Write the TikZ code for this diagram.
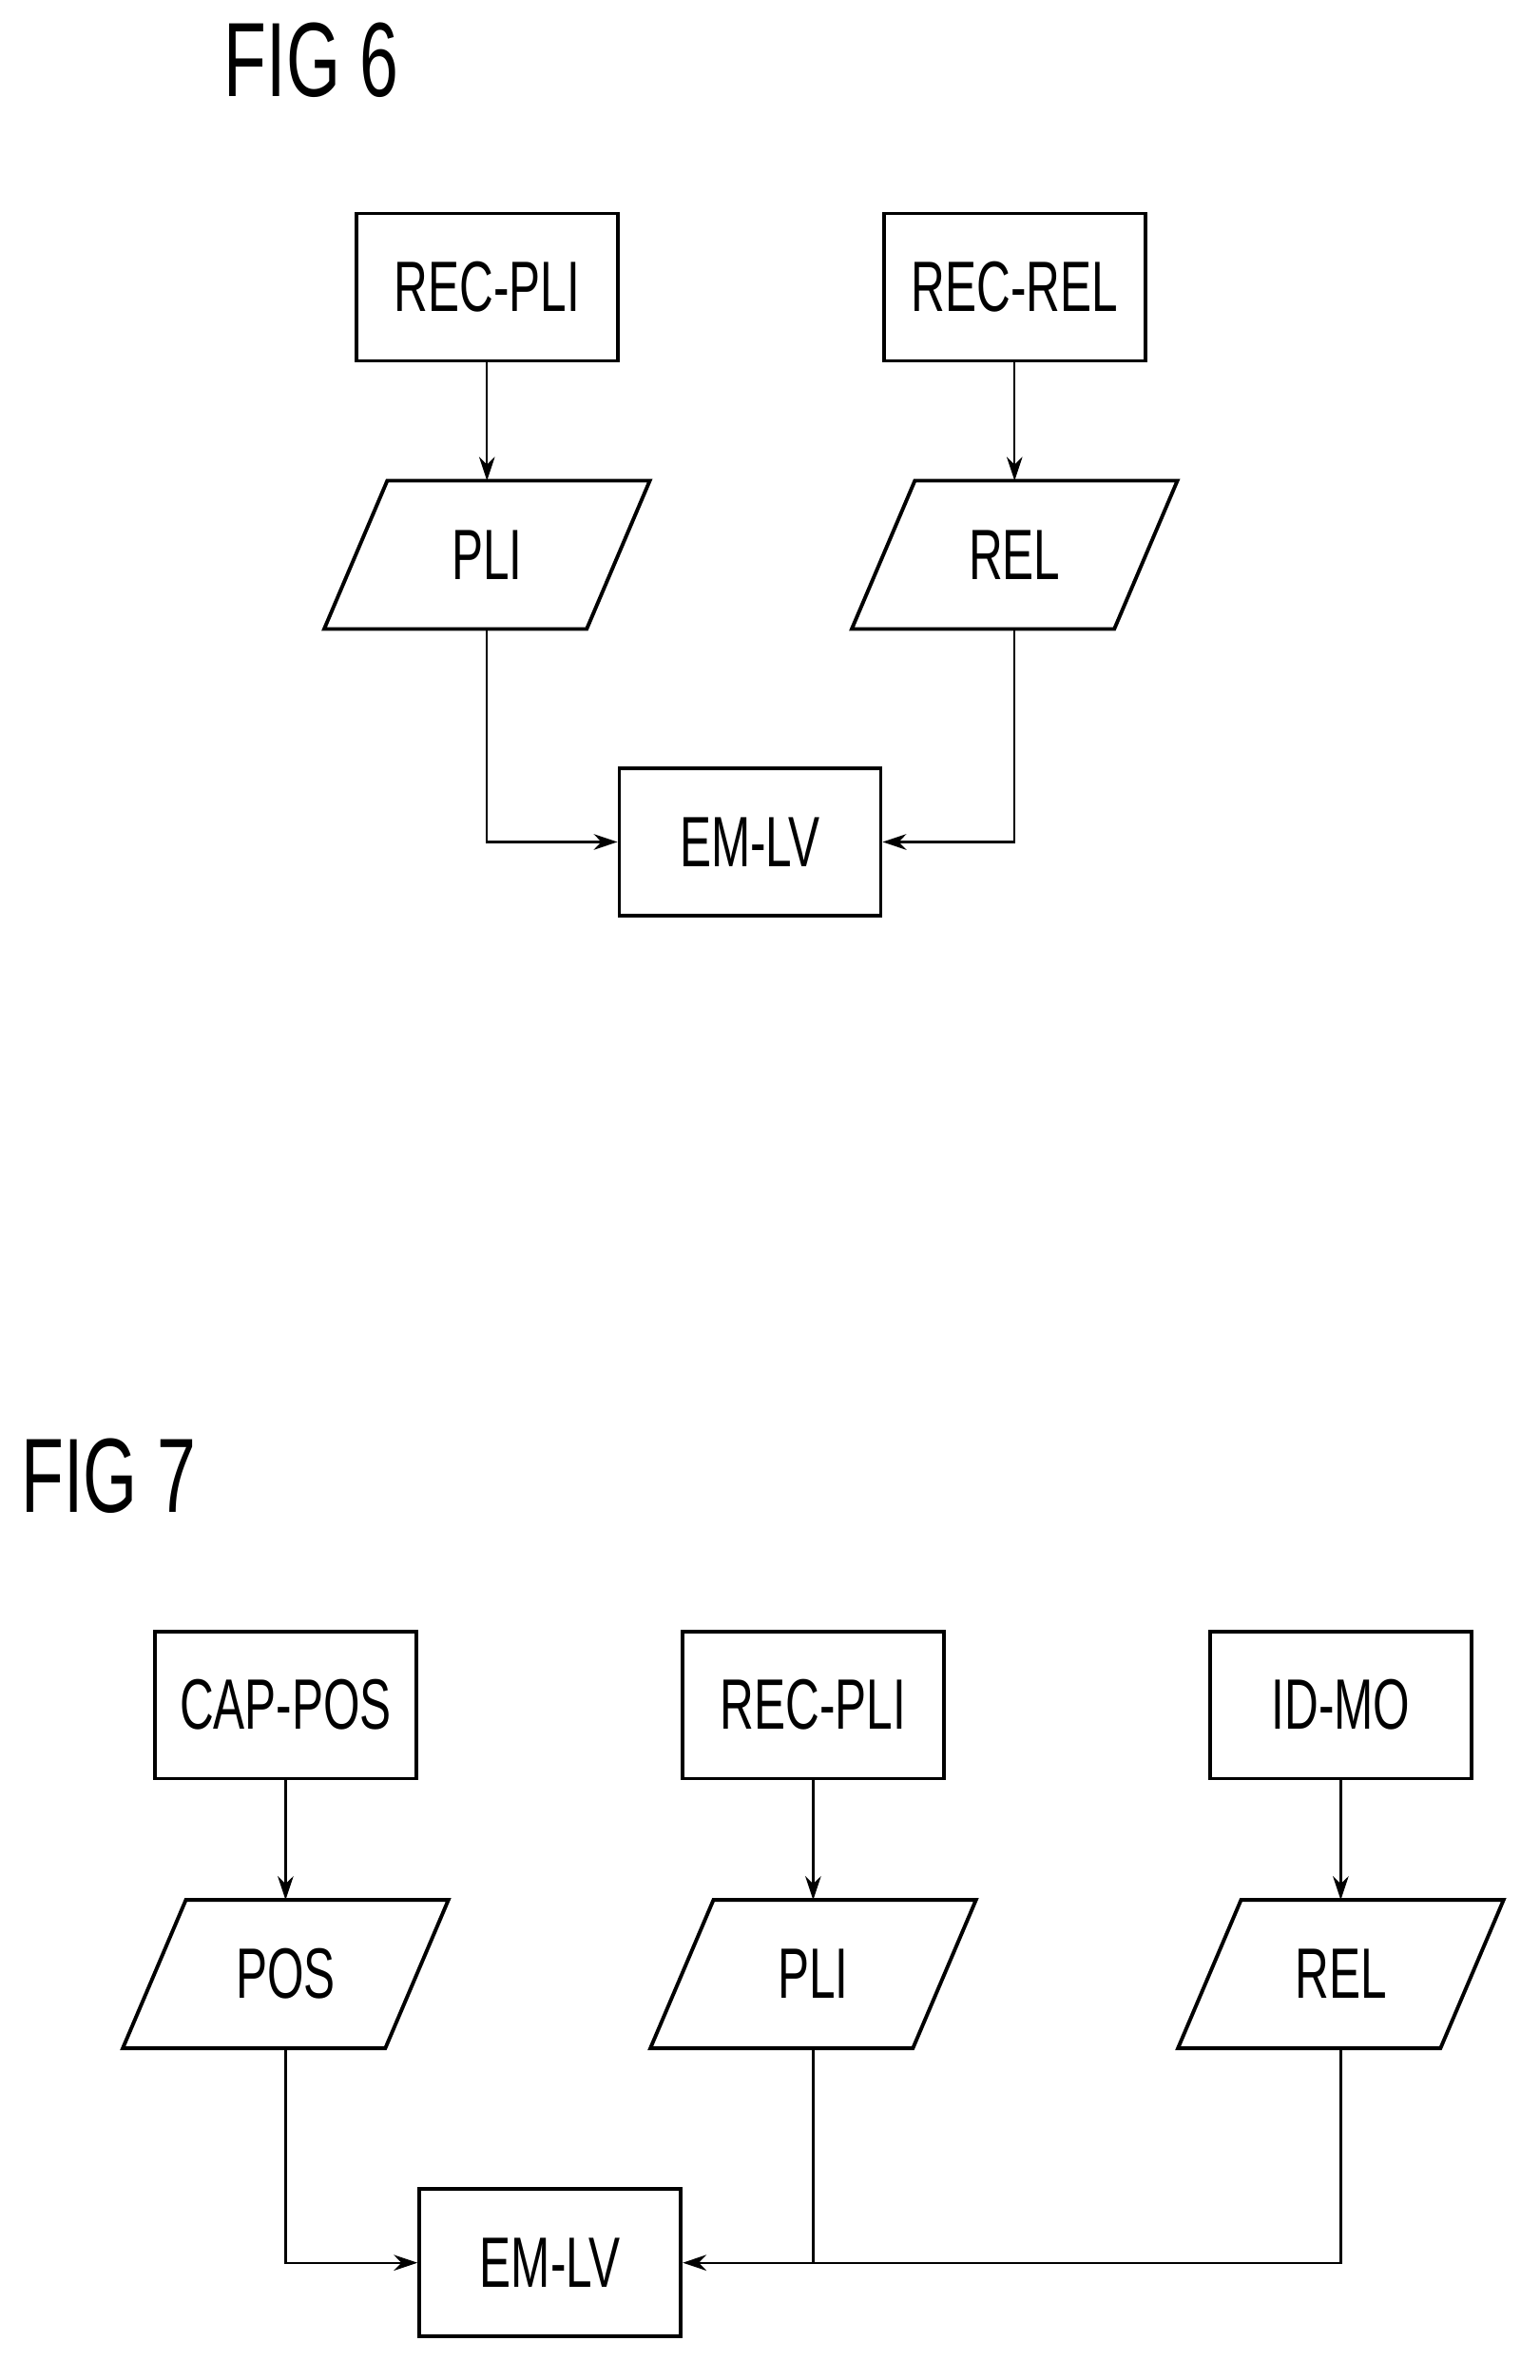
\documentclass[tikz,border=0pt]{standalone}
\usepackage{fontspec}
\setmainfont{Liberation Sans}[FakeStretch=0.66]
\usetikzlibrary{arrows.meta}
\begin{document}
\begin{tikzpicture}[x=0.02cm,y=-0.02cm,
  box/.style={draw,line width=1.4pt,minimum width=3.48cm,minimum height=1.96cm,inner sep=0pt,font=\fontsize{27}{30}\selectfont},
  pbox/.style={minimum width=3.48cm,minimum height=1.96cm,inner sep=0pt,font=\fontsize{27}{30}\selectfont},
  conn/.style={line width=0.8pt,-{Stealth[length=9pt,width=6pt]}},
  line/.style={line width=0.8pt},
  fig/.style={font=\fontsize{40}{44}\selectfont,anchor=west}]
\useasboundingbox (0,0) rectangle (1024,1583);
\newcommand{\para}[1]{\draw[line width=1.4pt] ([xshift=0.42cm]#1.north west) -- ([xshift=0.42cm]#1.north east) -- ([xshift=-0.42cm]#1.south east) -- ([xshift=-0.42cm]#1.south west) -- cycle;}
% FIG 6
\node[fig] (f6) at (143,40) {FIG 6};
\node[box] (a1) at (324,191) {REC-PLI};
\node[box] (a2) at (675,191) {REC-REL};
\node[pbox] (p1) at (324,369) {PLI}; \para{p1}
\node[pbox] (p2) at (675,369) {REL}; \para{p2}
\node[box] (e1) at (499,560) {EM-LV};
\draw[conn] (a1) -- (p1);
\draw[conn] (a2) -- (p2);
\draw[conn] (p1.south) |- (e1.west);
\draw[conn] (p2.south) |- (e1.east);
% FIG 7
\node[fig] (f7) at (8,982) {FIG 7};
\node[box] (b1) at (190,1134) {CAP-POS};
\node[box] (b2) at (541,1134) {REC-PLI};
\node[box] (b3) at (892,1134) {ID-MO};
\node[pbox] (q1) at (190,1313) {POS}; \para{q1}
\node[pbox] (q2) at (541,1313) {PLI}; \para{q2}
\node[pbox] (q3) at (892,1313) {REL}; \para{q3}
\node[box] (e2) at (366,1505) {EM-LV};
\coordinate (j) at (541,1505);
\draw[conn] (b1) -- (q1);
\draw[conn] (b2) -- (q2);
\draw[conn] (b3) -- (q3);
\draw[conn] (q1.south) |- (e2.west);
\draw[line] (q2.south) -- (j);
\draw[conn] (q3.south) |- (e2.east);
\end{tikzpicture}
\end{document}
